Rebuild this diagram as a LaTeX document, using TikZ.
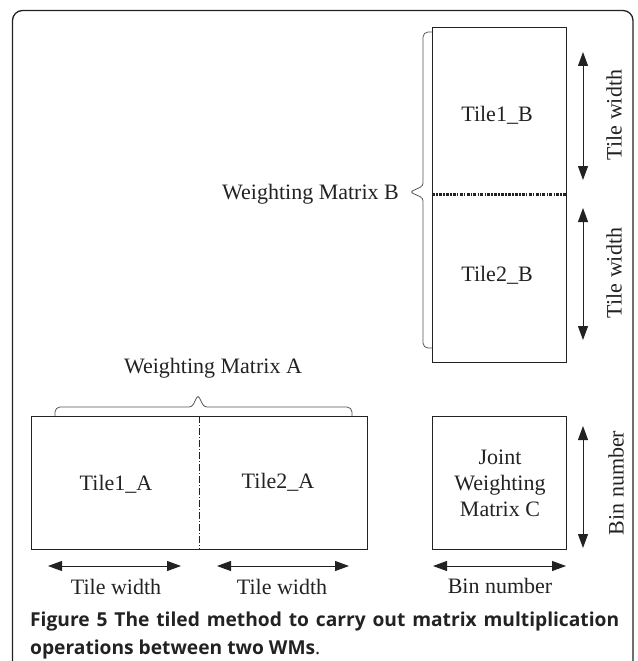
\documentclass[tikz,border=0pt]{standalone}
\usepackage{fontspec}
\setmainfont{Liberation Serif}
\newfontfamily\capfont{Open Sans}
\usetikzlibrary{arrows.meta,calc}

\definecolor{ink}{HTML}{222222}
\definecolor{bracegray}{HTML}{555555}

\tikzset{
  frame/.style={draw=ink, line width=1.3pt, rounded corners=10pt},
  matbox/.style={draw=ink, line width=0.9pt, inner sep=0pt, outer sep=0pt},
  lbl/.style={inner sep=0pt, text=ink, font=\fontsize{22}{26}\selectfont},
  vlbl/.style={lbl, rotate=90},
  dimarrow/.style={draw=ink, line width=1pt,
    {Triangle[length=14pt,width=10pt]}-{Triangle[length=14pt,width=10pt]}},
  bracket/.style={draw=bracegray, line width=0.8pt},
  splitB/.style={draw=ink, line width=2.3pt,
    dash pattern=on 3pt off 1.2pt on 1.5pt off 1.2pt},
  splitA/.style={draw=ink, line width=0.6pt,
    dash pattern=on 7pt off 2pt on 1pt off 2pt},
}

\begin{document}
\begin{tikzpicture}[x=1pt,y=-1pt]
\clip (0,0) rectangle (637,661);

% rounded frame, open below the page edge
\draw[frame] (12.5,10.5) rectangle (633,700);

% the three matrices
\node[matbox, minimum width=134pt, minimum height=335pt] (B) at (499,194.5) {};
\node[matbox, minimum width=336pt, minimum height=133pt] (A) at (199.5,482.5) {};
\node[matbox, minimum width=134pt, minimum height=133pt] (C) at (499,482.5) {};

% tile boundaries
\draw[splitB] (B.west) -- (B.east);
\draw[splitA] (A.north) -- (A.south);

% tile names
\node[lbl] (t1b) at (497,115) {Tile1\_B};
\node[lbl] (t2b) at (497,275) {Tile2\_B};
\node[lbl] (t1a) at (116,484) {Tile1\_A};
\node[lbl] (t2a) at (278,482) {Tile2\_A};
\node[lbl, align=center] (jc) at (500,483) {Joint\\Weighting\\Matrix C};

% brace beside B: small hooks at the ends, a short point in the middle
\coordinate (bt) at ($(B.north west)+(0,5)$);
\coordinate (bb) at ($(B.south west)+(0,-14)$);
\draw[bracket, rounded corners=5pt]
  (bt) -- ++(-9,0) [rounded corners=3pt] -- ++(0,154)
  -- ++(-13,6) -- ++(13,6) [rounded corners=5pt] -- (bb -| 423,0) -- (bb);
\node[lbl, anchor=east] (wmb) at (399,194) {Weighting Matrix B};

% brace above A
\coordinate (al) at ($(A.north west)+(23.5,0)$);
\coordinate (ar) at ($(A.north east)+(-15.5,0)$);
\draw[bracket, rounded corners=5pt]
  (al) -- ++(0,-9) [rounded corners=3pt] -- ++(137,0)
  -- ++(6,-12) -- ++(6,12) [rounded corners=5pt] -- (ar |- 0,407) -- (ar);
\node[lbl] (wma) at (213,368) {Weighting Matrix A};

% dimension arrows on the right
\coordinate (b1t) at (583,52);
\coordinate (b1b) at (583,180);
\coordinate (b2t) at (583,208);
\coordinate (b2b) at (583,340);
\coordinate (ct) at (583,426);
\coordinate (cb) at (583,548);
\draw[dimarrow] (b1t) -- (b1b);
\draw[dimarrow] (b2t) -- (b2b);
\draw[dimarrow] (ct) -- (cb);
\node[vlbl] (tw1b) at (614,115) {Tile width};
\node[vlbl] (tw2b) at (614,273) {Tile width};
\node[vlbl] (bnr) at (616,483) {Bin number};

% dimension arrows below
\coordinate (a1l) at (48,566);
\coordinate (a1r) at (181,566);
\coordinate (a2l) at (217,566);
\coordinate (a2r) at (349,566);
\coordinate (cl) at (433,566);
\coordinate (cr) at (566,566);
\draw[dimarrow] (a1l) -- (a1r);
\draw[dimarrow] (a2l) -- (a2r);
\draw[dimarrow] (cl) -- (cr);
\node[lbl] (tw1a) at (116,587) {Tile width};
\node[lbl] (tw2a) at (282,587) {Tile width};
\node[lbl] (bnb) at (500,586) {Bin number};

% caption
\node[anchor=north west, inner sep=0pt, text width=589pt, align=justify,
      text=ink, font=\capfont\fontsize{19.2}{28}\selectfont] (cap) at (30,612)
  {\bfseries Figure 5 The tiled method to carry out matrix multiplication\linebreak
   operations between two WMs\mdseries.};
\end{tikzpicture}
\end{document}
